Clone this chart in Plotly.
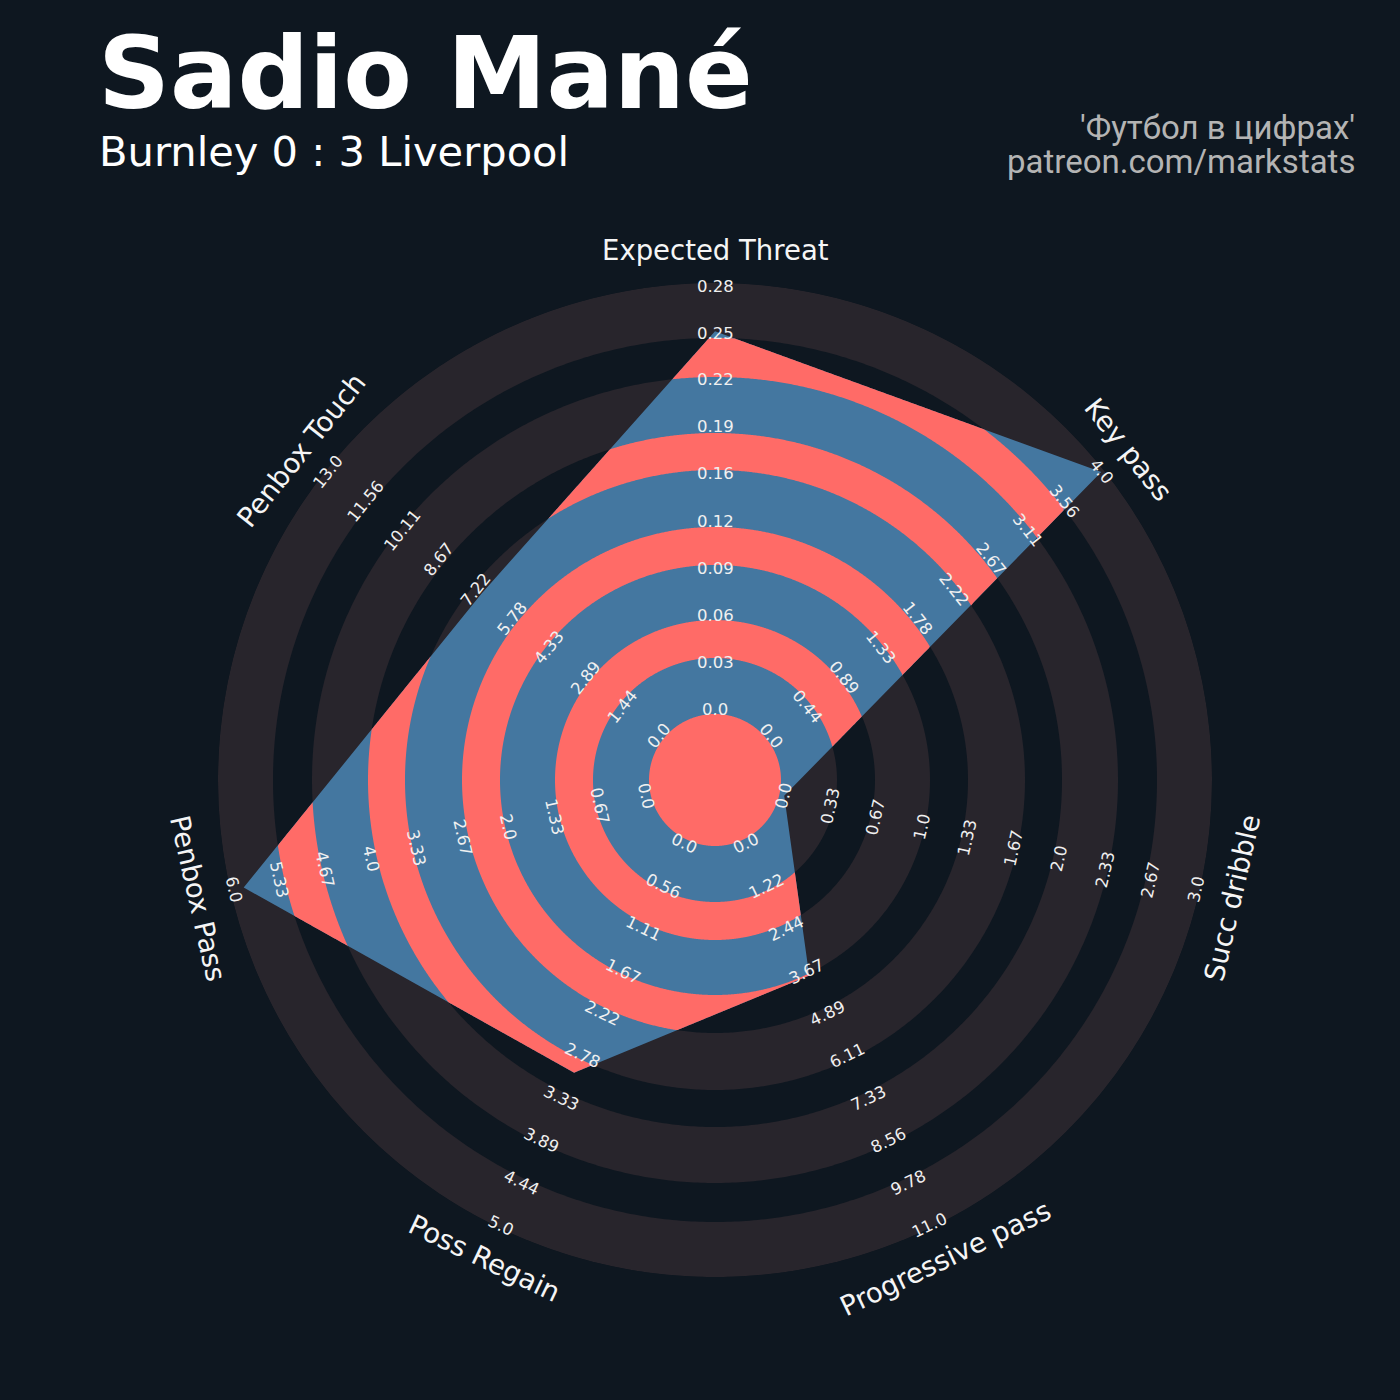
import numpy as np
import plotly.graph_objects as go

# radar data, clockwise from the top
params = ["Expected Threat", "Key pass", "Succ dribble", "Progressive pass",
          "Poss Regain", "Penbox Pass", "Penbox Touch"]
values = [0.25, 4.0, 0.0, 3.8, 3.0, 5.85, 7.0]
low = [0, 0, 0, 0, 0, 0, 0]
high = [0.28, 4, 3, 11, 5, 6, 13]

title = "Sadio Mané"
subtitle = "Burnley 0 : 3 Liverpool"
credit = ["'Футбол в цифрах'", "patreon.com/markstats"]

BG = "#0e1720"
RING = "#28252c"
BLUE = "#4477a0"
SALMON = "#ff6b67"
FONT = "DejaVu Sans"

W = 1400
CX, CY = 715, 780          # centre of the radar in pixels
R_OUT = 497
R_CENTER = 66
DARK = [(66, 122), (160, 215), (253, 310), (347, 403), (442, 497)]
GAPS = [(122, 160), (215, 253), (310, 347), (403, 442)]
R0, R9 = 71, 494           # radius of min / max value
N_LABELS = 10


def to_radius(v, lo, hi):
    return R0 + (v - lo) / (hi - lo) * (R9 - R0)


n = len(params)
step = 360 / n
angles = [i * step for i in range(n)]
radii = [to_radius(v, lo, hi) for v, lo, hi in zip(values, low, high)]


def edge_radius(theta):
    """distance from centre to the radar polygon edge along each angle"""
    vt = np.radians(angles)
    vx, vy = np.array(radii) * np.sin(vt), np.array(radii) * np.cos(vt)
    idx = (np.floor((theta % 360) / step + 1e-9).astype(int)) % n
    nxt = (idx + 1) % n
    ex, ey = vx[nxt] - vx[idx], vy[nxt] - vy[idx]
    th = np.radians(theta)
    dx, dy = np.sin(th), np.cos(th)
    return (vx[idx] * ey - vy[idx] * ex) / (dx * ey - dy * ex)


def disk(r, color):
    th = np.linspace(0, 360, 721)
    return go.Scatterpolar(r=np.full_like(th, r), theta=th, mode="lines",
                           fill="toself", fillcolor=color, line=dict(width=0),
                           hoverinfo="skip")


fig = go.Figure()

# rings (layered disks)
for a, b in reversed(DARK):
    fig.add_trace(disk(b, RING))
    fig.add_trace(disk(a, BG))

# radar polygon
fig.add_trace(go.Scatterpolar(
    r=radii + radii[:1], theta=angles + angles[:1], mode="lines",
    fill="toself", fillcolor=BLUE, line=dict(width=0), hoverinfo="skip"))

# salmon bands = gaps clipped to the polygon
start = int(np.argmin(radii))
th = np.concatenate([np.linspace(angles[start] + i * step,
                                 angles[start] + (i + 1) * step, 240)
                     for i in range(n)])
rp = edge_radius(th)
for a, b in GAPS:
    outer = np.clip(rp, a, b)
    fig.add_trace(go.Scatterpolar(
        r=np.concatenate([outer, np.full_like(outer, a)]),
        theta=np.concatenate([th, th[::-1]]), mode="lines",
        fill="toself", fillcolor=SALMON, line=dict(width=0), hoverinfo="skip"))

fig.add_trace(disk(R_CENTER, SALMON))


def paper(r, t):
    x = CX + r * np.sin(np.radians(t))
    y = CY - r * np.cos(np.radians(t))
    return x / W, 1 - y / W


def tangent(t):
    a = t
    while a > 90:
        a -= 180
    return a


annotations = []
for i, p in enumerate(params):
    t = angles[i]
    for k in range(N_LABELS):
        v = low[i] + (high[i] - low[i]) * k / (N_LABELS - 1)
        x, y = paper(R0 + (R9 - R0) * k / (N_LABELS - 1), t)
        annotations.append(dict(x=x, y=y, xref="paper", yref="paper",
                                text=str(round(float(v), 2)), showarrow=False,
                                textangle=tangent(t), xanchor="center", yanchor="middle",
                                font=dict(family=FONT, size=16.5, color="#f0f0f0")))
    x, y = paper(530, t)
    annotations.append(dict(x=x, y=y, xref="paper", yref="paper", text=p,
                            showarrow=False, textangle=tangent(t),
                            xanchor="center", yanchor="middle",
                            font=dict(family=FONT, size=27.5, color="#f5f5f5")))

annotations += [
    dict(x=96 / W, y=1 - 73 / W, xref="paper", yref="paper", text=f"<b>{title}</b>",
         showarrow=False, xanchor="left", yanchor="middle",
         font=dict(family=FONT, size=100, color="#ffffff")),
    dict(x=97 / W, y=1 - 151 / W, xref="paper", yref="paper", text=subtitle,
         showarrow=False, xanchor="left", yanchor="middle",
         font=dict(family=FONT, size=41.6, color="#ffffff")),
    dict(x=1357 / W, y=1 - 127 / W, xref="paper", yref="paper", text=credit[0],
         showarrow=False, xanchor="right", yanchor="middle",
         font=dict(family="Roboto", size=33, color="#b4b4b4")),
    dict(x=1357 / W, y=1 - 162 / W, xref="paper", yref="paper", text=credit[1],
         showarrow=False, xanchor="right", yanchor="middle",
         font=dict(family="Roboto", size=33, color="#b4b4b4")),
]

fig.update_layout(
    width=W, height=W,
    margin=dict(l=0, r=0, t=0, b=0),
    paper_bgcolor=BG, plot_bgcolor=BG,
    showlegend=False,
    polar=dict(
        domain=dict(x=[(CX - R_OUT) / W, (CX + R_OUT) / W],
                    y=[1 - (CY + R_OUT) / W, 1 - (CY - R_OUT) / W]),
        bgcolor="rgba(0,0,0,0)",
        radialaxis=dict(range=[0, R_OUT], visible=False),
        angularaxis=dict(visible=False, rotation=90, direction="clockwise"),
    ),
    annotations=annotations,
)

fig.write_html("out.html", config={"displayModeBar": False}, post_script=(
    "document.body.style.margin='0';"
    "document.body.style.background='" + BG + "';"))
